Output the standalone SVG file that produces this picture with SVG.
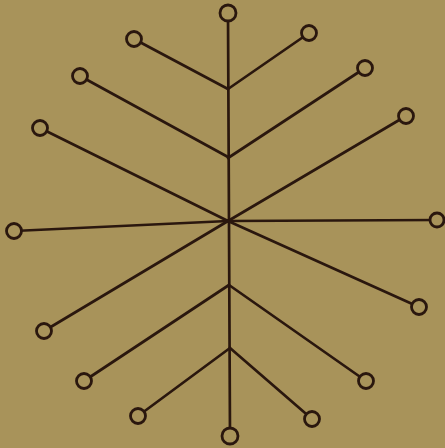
<svg xmlns="http://www.w3.org/2000/svg" width="445" height="448" viewBox="0 0 445 448">
<style>
.c{stroke:#2a170e;stroke-width:2.7;fill:none;stroke-linecap:round}
.n{stroke:#2a170e;stroke-width:2.8;fill:#a8935a}
</style>
<rect width="445" height="448" fill="#a8935a"/>
<g id="connectors" class="c">
<line x1="228" y1="13" x2="230" y2="436"/>
<line x1="134" y1="39" x2="228" y2="89"/>
<line x1="309" y1="33" x2="228" y2="89"/>
<line x1="80" y1="76" x2="228" y2="157"/>
<line x1="365" y1="68" x2="228" y2="158"/>
<line x1="40" y1="128" x2="228" y2="221"/>
<line x1="406" y1="116" x2="228" y2="221"/>
<line x1="14" y1="231" x2="228" y2="221"/>
<line x1="437" y1="220" x2="228" y2="221"/>
<line x1="44" y1="331" x2="228" y2="221"/>
<line x1="419" y1="307" x2="228" y2="221"/>
<line x1="84" y1="381" x2="229" y2="285"/>
<line x1="366" y1="381" x2="229" y2="285"/>
<line x1="138" y1="416" x2="230" y2="348"/>
<line x1="312" y1="419" x2="230" y2="348"/>
</g>
<g id="n-top"><circle class="n" cx="228" cy="13" r="8"/></g>
<g id="n-ul1"><circle class="n" cx="134" cy="39" r="7.5"/></g>
<g id="n-ur1"><circle class="n" cx="309" cy="33" r="7.5"/></g>
<g id="n-ul2"><circle class="n" cx="80" cy="76" r="7.5"/></g>
<g id="n-ur2"><circle class="n" cx="365" cy="68" r="7.5"/></g>
<g id="n-ul3"><circle class="n" cx="40" cy="128" r="7.5"/></g>
<g id="n-ur3"><circle class="n" cx="406" cy="116" r="7.5"/></g>
<g id="n-l"><circle class="n" cx="14" cy="231" r="7.5"/></g>
<g id="n-r"><circle class="n" cx="437" cy="220" r="7"/></g>
<g id="n-ll1"><circle class="n" cx="44" cy="331" r="7.5"/></g>
<g id="n-lr1"><circle class="n" cx="419" cy="307" r="7.5"/></g>
<g id="n-ll2"><circle class="n" cx="84" cy="381" r="7.5"/></g>
<g id="n-lr2"><circle class="n" cx="366" cy="381" r="7.5"/></g>
<g id="n-ll3"><circle class="n" cx="138" cy="416" r="7.5"/></g>
<g id="n-lr3"><circle class="n" cx="312" cy="419" r="7.5"/></g>
<g id="n-bottom"><circle class="n" cx="230" cy="436" r="8"/></g>
</svg>
